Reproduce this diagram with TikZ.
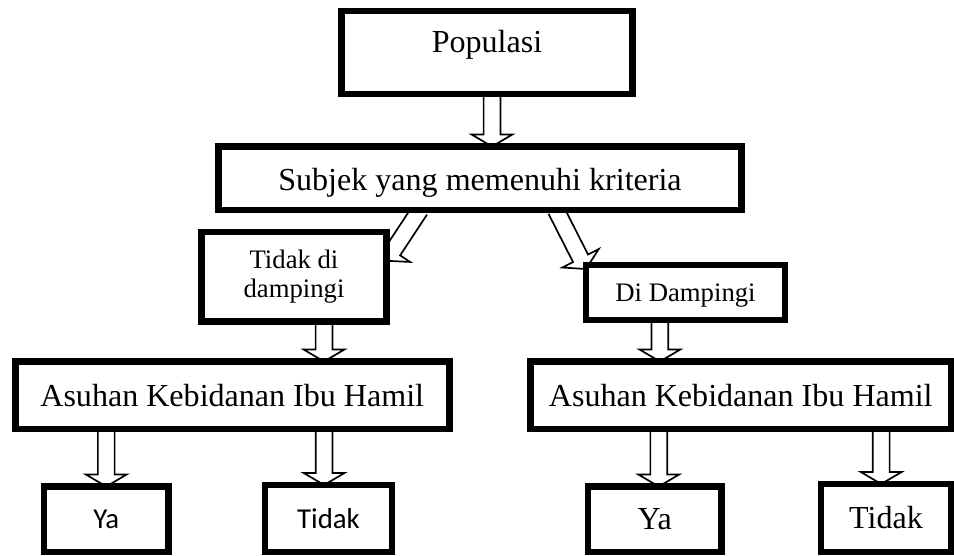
\documentclass[tikz,border=0pt]{standalone}
\usepackage{fontspec}
\setmainfont{Liberation Serif}
\newfontfamily\calibrifont{Carlito}
\usetikzlibrary{calc,backgrounds}

\begin{document}
\begin{tikzpicture}[
    x=0.025cm, y=-0.025cm,
    box/.style={draw, line width=4.9pt, fill=white, inner sep=0pt, outer sep=0pt, align=center, font=\fontsize{22.8}{26}\selectfont},
    sbox/.style={box, font=\fontsize{19}{20.5}\selectfont},
    cbox/.style={box, font=\calibrifont\fontsize{20.5}{22}\selectfont},
    barr/.style={line width=1.2pt, to path={let \p1=(\tikztostart), \p2=(\tikztotarget), \p3=($(\p2)!0.3cm!(\p1)$) in
        ($(\p1)!0.21cm!90:(\p2)$) -- ($(\p3)!0.21cm!90:(\p2)$) -- ($(\p3)!0.51cm!90:(\p2)$) -- (\p2)
        -- ($(\p3)!0.51cm!-90:(\p2)$) -- ($(\p3)!0.21cm!-90:(\p2)$) -- ($(\p1)!0.21cm!-90:(\p2)$)}}
]
\useasboundingbox (0,0) rectangle (954,555);

\node[box, minimum width=7.275cm, minimum height=2.075cm, text height=0.55cm, text depth=0.53cm] (pop) at (487,52.5) {Populasi};
\node[box, minimum width=13.075cm, minimum height=1.5875cm, text height=0.76cm, text depth=0.17cm] (subj) at (480,178.25) {Subjek yang memenuhi kriteria};
\node[sbox, minimum width=4.625cm, minimum height=2.2375cm] (tdk) at (294,276.75) {Tidak di\\dampingi};
\node[sbox, minimum width=4.975cm, minimum height=1.375cm, text height=0.6cm, text depth=0.14cm] (dam) at (685.5,292.5) {Di Dampingi};
\node[box, minimum width=10.8375cm, minimum height=1.6875cm] (lasu) at (232.25,395.25) {Asuhan Kebidanan Ibu Hamil};
\node[box, minimum width=10.5125cm, minimum height=1.6875cm] (rasu) at (740.75,395.25) {Asuhan Kebidanan Ibu Hamil};
\node[cbox, minimum width=3.1125cm, minimum height=1.6375cm] (lya) at (106.25,519.25) {Ya};
\node[cbox, minimum width=3.175cm, minimum height=1.675cm] (ltdk) at (328.5,518.5) {Tidak};
\node[box, minimum width=3.3375cm, minimum height=1.6375cm] (rya) at (654.75,519.25) {Ya};
\node[box, minimum width=3.25cm, minimum height=1.7cm] (rtdk) at (886,518) {Tidak};

% block arrows behind the boxes
\begin{scope}[on background layer]
\draw[barr] ([xshift=0.125cm]pop.south) to ([xshift=0.125cm]pop.south |- subj.north);
\draw[barr] ([xshift=-1.5cm]subj.south) to ([yshift=0.4cm]tdk.east);
\draw[barr] ([xshift=1.9cm]subj.south) to ([yshift=-0.1cm]dam.north west);
\draw[barr] ([xshift=0.75cm]tdk.south) to ([xshift=0.75cm]tdk.south |- lasu.north);
\draw[barr] ([xshift=-0.64cm]dam.south) to ([xshift=-0.64cm]dam.south |- rasu.north);
\draw[barr] (lya.north |- lasu.south) to (lya.north);
\draw[barr] ([xshift=-0.11cm]ltdk.north |- lasu.south) to ([xshift=-0.11cm]ltdk.north);
\draw[barr] ([xshift=0.1cm]rya.north |- rasu.south) to ([xshift=0.1cm]rya.north);
\draw[barr] ([xshift=-0.12cm]rtdk.north |- rasu.south) to ([xshift=-0.12cm]rtdk.north);
\end{scope}
\end{tikzpicture}
\end{document}
